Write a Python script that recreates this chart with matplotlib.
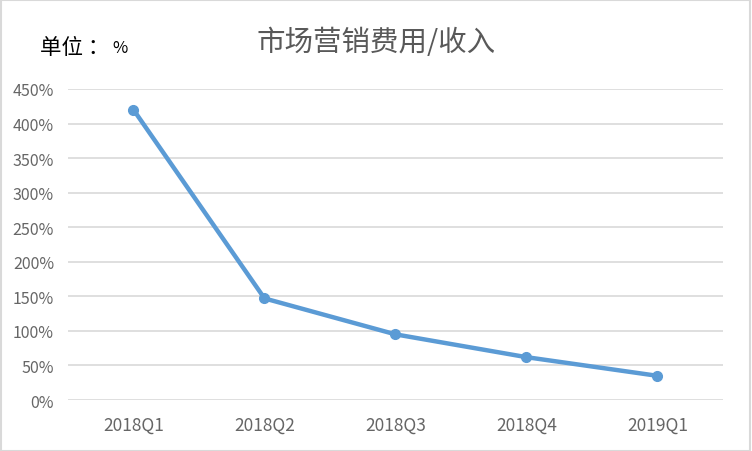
import matplotlib.pyplot as plt
from matplotlib.patches import Rectangle
from matplotlib.ticker import FuncFormatter

plt.rcParams['font.family'] = ['Noto Sans CJK SC', 'DejaVu Sans']

# quarters and marketing expense / revenue ratio (%)
quarters = ["2018Q1", "2018Q2", "2018Q3", "2018Q4", "2019Q1"]
ratio = [420, 147, 95, 62, 35]
yticks = [0, 50, 100, 150, 200, 250, 300, 350, 400, 450]

fig = plt.figure(figsize=(7.52, 4.52), dpi=100)
ax = fig.add_axes([0.0904, 0.1128, 0.8710, 0.6881])

x = list(range(len(quarters)))
ax.plot(x, ratio, color="#5B9BD5", linewidth=3.2, marker="o", markersize=7,
        solid_capstyle="round", zorder=3)

ax.set_xlim(-0.5, len(quarters) - 0.5)
ax.set_ylim(0, 450)
ax.set_yticks(yticks)
ax.yaxis.set_major_formatter(FuncFormatter(lambda v, p: f"{int(v)}%"))
ax.set_xticks(x)
ax.set_xticklabels(quarters)
ax.grid(axis="y", color="#D9D9D9", linewidth=1.2)
ax.set_axisbelow(True)
for s in ax.spines.values():
    s.set_visible(False)
ax.tick_params(length=0, colors="#666666")
ax.tick_params(axis="x", pad=11, labelsize=12.5)
ax.tick_params(axis="y", pad=10, labelsize=11.5)

fig.text(0.5, 0.905, "市场营销费用/收入", ha="center", va="center",
         fontsize=20.5, color="#595959")
fig.text(0.053, 0.893, "单位 ：", ha="left", va="center", fontsize=15.5,
         color="#000000")
fig.text(0.149, 0.893, "%", ha="left", va="center", fontsize=12,
         color="#000000")

fig.patches.append(Rectangle((0.001, 0.001), 0.997, 0.997, transform=fig.transFigure,
                             fill=False, edgecolor="#D9D9D9", linewidth=1.5))

fig.savefig("out.png", dpi=100)
